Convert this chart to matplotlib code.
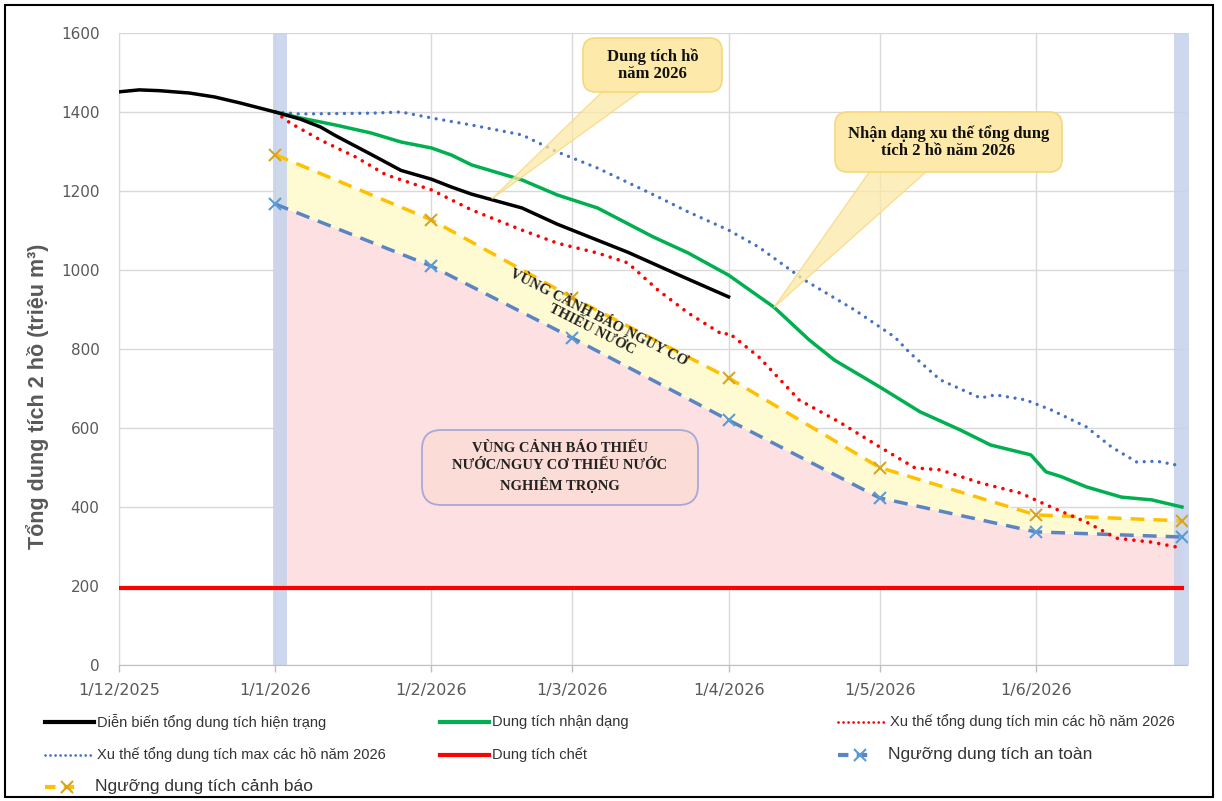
import numpy as np
import matplotlib
matplotlib.use("Agg")
import matplotlib.pyplot as plt
import matplotlib.dates as mdates
from matplotlib.lines import Line2D
from matplotlib.patches import Rectangle, FancyBboxPatch, Polygon

# ---------------- data ----------------
hien_trang_dates = ["2025-12-01", "2025-12-05", "2025-12-09", "2025-12-15", "2025-12-20",
                    "2025-12-25", "2026-01-01", "2026-01-06", "2026-01-10", "2026-01-13",
                    "2026-01-20", "2026-01-26", "2026-02-01", "2026-02-05", "2026-02-09",
                    "2026-02-19", "2026-02-26", "2026-03-12", "2026-03-22", "2026-04-01"]
hien_trang_vals = [1451, 1456, 1454, 1448, 1438, 1423, 1400, 1382, 1362, 1340,
                   1293, 1252, 1230, 1210, 1192, 1157, 1116, 1045, 988, 932]

nhan_dang_dates = ["2026-01-01", "2026-01-06", "2026-01-13", "2026-01-20", "2026-01-26",
                   "2026-02-01", "2026-02-05", "2026-02-09", "2026-02-19", "2026-02-26",
                   "2026-03-06", "2026-03-17", "2026-03-24", "2026-04-01", "2026-04-10",
                   "2026-04-17", "2026-04-22", "2026-05-01", "2026-05-09", "2026-05-17",
                   "2026-05-23", "2026-05-31", "2026-06-03", "2026-06-06", "2026-06-11",
                   "2026-06-18", "2026-06-24", "2026-06-30"]
nhan_dang_vals = [1400, 1385, 1367, 1347, 1324, 1309, 1291, 1266, 1228, 1190,
                  1157, 1084, 1043, 987, 906, 823, 772, 704, 641, 595,
                  557, 532, 489, 477, 451, 425, 418, 400]

min_dates = ["2026-01-01", "2026-01-04", "2026-01-10", "2026-01-17", "2026-01-23",
             "2026-02-01", "2026-02-09", "2026-02-19", "2026-02-26", "2026-03-06",
             "2026-03-12", "2026-03-18", "2026-03-24", "2026-03-31", "2026-04-01",
             "2026-04-07", "2026-04-15", "2026-04-23", "2026-05-01", "2026-05-08",
             "2026-05-13", "2026-05-21", "2026-05-29", "2026-06-04", "2026-06-11",
             "2026-06-17", "2026-06-24", "2026-06-30"]
min_vals = [1400, 1372, 1329, 1286, 1241, 1203, 1152, 1101, 1068, 1043,
            1018, 949, 891, 835, 841, 780, 671, 615, 552, 499,
            494, 461, 435, 400, 362, 321, 311, 296]

max_dates = ["2026-01-01", "2026-01-06", "2026-01-20", "2026-01-26", "2026-02-01",
             "2026-02-09", "2026-02-19", "2026-02-26", "2026-03-06", "2026-03-18",
             "2026-03-24", "2026-04-01", "2026-04-07", "2026-04-16", "2026-04-26",
             "2026-05-04", "2026-05-07", "2026-05-13", "2026-05-21", "2026-05-24",
             "2026-05-30", "2026-06-04", "2026-06-11", "2026-06-16", "2026-06-21",
             "2026-06-25", "2026-06-29"]
max_vals = [1400, 1395, 1397, 1400, 1385, 1367, 1342, 1299, 1258, 1185,
            1147, 1101, 1058, 975, 899, 830, 790, 722, 676, 684,
            671, 646, 603, 552, 514, 516, 506]

nguong_dates = ["2026-01-01", "2026-02-01", "2026-03-01", "2026-04-01",
                "2026-05-01", "2026-06-01", "2026-06-30"]
an_toan_vals = [1167, 1010, 828, 620, 423, 337, 324]
canh_bao_vals = [1292, 1127, 930, 727, 500, 380, 365]

chet_dates = ["2025-12-01", "2026-06-30"]
chet_vals = [195, 195]

tick_dates = ["2025-12-01", "2026-01-01", "2026-02-01", "2026-03-01",
              "2026-04-01", "2026-05-01", "2026-06-01"]
tick_labels = ["1/12/2025", "1/1/2026", "1/2/2026", "1/3/2026",
               "1/4/2026", "1/5/2026", "1/6/2026"]
y_ticks = [0, 200, 400, 600, 800, 1000, 1200, 1400, 1600]

labels = ["Diễn biến tổng dung tích hiện trạng", "Dung tích nhận dạng",
          "Xu thế tổng dung tích min các hồ năm 2026",
          "Xu thế tổng dung tích max các hồ năm 2026", "Dung tích chết",
          "Ngưỡng dung tích an toàn", "Ngưỡng dung tích cảnh báo"]


def d(lst):
    return mdates.date2num(np.array(lst, dtype="datetime64[D]"))


# ---------------- style ----------------
SANS = ["Liberation Sans", "DejaVu Sans"]
SERIF = ["Liberation Serif", "DejaVu Serif"]
C_BLACK = "#000000"
C_GREEN = "#00b050"
C_RED = "#ff0000"
C_BLUE = "#4472c4"
C_SAFE = "#5b84c4"
C_SAFE_M = "#5b9bd5"
C_WARN = "#ffc000"
C_WARN_M = "#d9a520"
GRID = "#d9d9d9"
TXT = "#595959"

W, H = 1222, 801
fig = plt.figure(figsize=(W / 100, H / 100), dpi=100)
L, R, B, T = 119, 1187, 665, 33
ax = fig.add_axes([L / W, 1 - B / H, (R - L) / W, (B - T) / H])

x0 = d(["2025-12-01"])[0]
x1 = d(["2026-07-01"])[0]
ax.set_xlim(x0, x1)
ax.set_ylim(0, 1600)


def afx(px):
    return (px - L) / (R - L)


def afy(py):
    return (B - py) / (B - T)


def dfx(xv):
    return (xv - x0) / (x1 - x0)


def fx(px):
    return px / W


def fy(py):
    return 1 - py / H


# blue bands
ax.axvspan(d(["2025-12-31"])[0] + 0.5, d(["2026-01-03"])[0] + 0.3,
           color="#c5d2ec", alpha=0.85, zorder=1, lw=0)
ax.axvspan(d(["2026-06-28"])[0] + 0.5, x1 + 0.3,
           color="#c5d2ec", alpha=0.85, zorder=1, lw=0, clip_on=False)

# fills
xn = d(nguong_dates)
ax.fill_between(xn, chet_vals[0], an_toan_vals, color="#fde0e1", lw=0, zorder=0.5)
ax.fill_between(xn, an_toan_vals, canh_bao_vals, color="#fefbd2", lw=0, zorder=0.5)

# grid
for v in y_ticks:
    ax.axhline(v, color=GRID, lw=1, zorder=0.2)
for v in d(tick_dates):
    ax.axvline(v, color=GRID, lw=1, zorder=0.2)

DOT = (0, (0.01, 2.3))
# series
ax.plot(d(chet_dates), chet_vals, color=C_RED, lw=3, zorder=3)
ax.plot(xn, an_toan_vals, color=C_SAFE, lw=2.5, ls=(0, (4, 2.6)), zorder=3)
ax.plot(xn, an_toan_vals, ls="none", marker="x", ms=8, mew=1.5, color=C_SAFE_M, zorder=4)
ax.plot(xn, canh_bao_vals, color=C_WARN, lw=2.5, ls=(0, (4, 2.6)), zorder=3)
ax.plot(xn, canh_bao_vals, ls="none", marker="x", ms=8, mew=1.5, color=C_WARN_M, zorder=4)
ax.plot(d(max_dates), max_vals, color=C_BLUE, lw=2.4, ls=DOT,
        dash_capstyle="round", zorder=3)
ax.plot(d(min_dates), min_vals, color=C_RED, lw=2.6, ls=DOT,
        dash_capstyle="round", zorder=3)
ax.plot(d(nhan_dang_dates), nhan_dang_vals, color=C_GREEN, lw=2.5, zorder=3)
ax.plot(d(hien_trang_dates), hien_trang_vals, color=C_BLACK, lw=2.5, zorder=3)

# axes styling
ax.set_yticks(y_ticks)
ax.set_xticks(d(tick_dates))
ax.set_xticklabels(tick_labels)
ax.tick_params(axis="x", colors=TXT, labelsize=11.5, length=5, width=1, color="#bfbfbf", pad=8)
ax.tick_params(axis="y", colors=TXT, labelsize=11, length=0, pad=14)
for lab in ax.get_xticklabels() + ax.get_yticklabels():
    lab.set_color(TXT)
for s in ["top", "right"]:
    ax.spines[s].set_visible(False)
ax.spines["left"].set_color(GRID)
ax.spines["bottom"].set_color("#bfbfbf")
fig.text(fx(38), fy(396), "Tổng dung tích 2 hồ (triệu m³)", fontsize=15.5, fontweight="bold",
         color=TXT, family=SANS, rotation=90, ha="center", va="center")

# callouts
callout_fc = "#fde9a9"
callout_ec = "#f7d77a"


def callout(box, base, tip_date, tip_val, text):
    bx0, by0, bx1, by1 = box
    tx = dfx(d([tip_date])[0])
    ty = tip_val / 1600
    tail = Polygon([(afx(base[0]), afy(base[1])), (afx(base[2]), afy(base[3])), (tx, ty)],
                   closed=True, transform=ax.transAxes, fc=callout_fc, ec=callout_ec,
                   lw=1, alpha=0.75, zorder=6, clip_on=False)
    ax.add_patch(tail)
    rect = FancyBboxPatch((afx(bx0), afy(by1)), afx(bx1) - afx(bx0), afy(by0) - afy(by1),
                          boxstyle="round,pad=0,rounding_size=0.012", transform=ax.transAxes,
                          fc=callout_fc, ec=callout_ec, lw=1.2, zorder=6.5, clip_on=False,
                          mutation_aspect=(R - L) / (B - T))
    ax.add_patch(rect)
    ax.text((afx(bx0) + afx(bx1)) / 2, (afy(by0) + afy(by1)) / 2, text,
            transform=ax.transAxes, ha="center", va="center", fontsize=12,
            fontweight="bold", family=SERIF, color="#111111", zorder=7, linespacing=1.1)


callout((583, 38, 722, 92), (603, 91, 641, 91), "2026-02-13", 1180, "Dung tích hồ\nnăm 2026")
callout((835, 112, 1062, 172), (870, 171, 927, 171), "2026-04-10", 905,
        "Nhận dạng xu thế tổng dung\ntích 2 hồ năm 2026")

# zone labels
ax.text(0.446, 0.540, "VÙNG CẢNH BÁO NGUY CƠ\nTHIẾU NƯỚC", transform=ax.transAxes,
        rotation=-27, ha="center", va="center", fontsize=10.5, fontweight="bold",
        family=SERIF, color="#222222", linespacing=1.0, zorder=5)
pbox = FancyBboxPatch((afx(422), afy(505)), afx(698) - afx(422), afy(430) - afy(505),
                      boxstyle="round,pad=0,rounding_size=0.018", transform=ax.transAxes,
                      fc="#fcdcd6", ec="#a8a8d8", lw=1.3, zorder=4.5,
                      mutation_aspect=(R - L) / (B - T))
ax.add_patch(pbox)
ax.text((afx(422) + afx(698)) / 2, (afy(430) + afy(505)) / 2,
        "VÙNG CẢNH BÁO THIẾU\nNƯỚC/NGUY CƠ THIẾU NƯỚC\nNGHIÊM TRỌNG",
        transform=ax.transAxes, ha="center", va="center", fontsize=10.5, fontweight="bold",
        family=SERIF, color="#222222", linespacing=1.35, zorder=5)

# legend (manual, figure pixel coordinates)
LDOT = (0, (0.01, 1.8))
legend_items = [
    (45, 722, dict(color=C_BLACK, lw=3), None, labels[0], 10.5),
    (440, 722, dict(color=C_GREEN, lw=3), None, labels[1], 10.5),
    (838, 722, dict(color=C_RED, lw=2, ls=LDOT, dash_capstyle="round"), None, labels[2], 10.5),
    (45, 755, dict(color=C_BLUE, lw=2, ls=LDOT, dash_capstyle="round"), None, labels[3], 10.5),
    (440, 755, dict(color=C_RED, lw=3), None, labels[4], 10.5),
    (838, 755, dict(color=C_SAFE, lw=3, ls=(0, (2.5, 2))), C_SAFE_M, labels[5], 12.5),
    (45, 787, dict(color=C_WARN, lw=3, ls=(0, (2.5, 2))), C_WARN_M, labels[6], 12.5),
]
for px, py, kw, mcol, lab, fs in legend_items:
    if mcol is None:
        fig.add_artist(Line2D([fx(px), fx(px + 49)], [fy(py), fy(py)], **kw))
        tx = px + 52
    else:
        fig.add_artist(Line2D([fx(px), fx(px + 34)], [fy(py), fy(py)], **kw))
        fig.add_artist(Line2D([fx(px + 22)], [fy(py)], marker="x", ms=8, mew=1.5,
                              color=mcol, ls="none"))
        tx = px + 50
    fig.text(fx(tx), fy(py), lab, fontsize=fs, family=SANS, color="#333333",
             ha="left", va="center")

# outer frame
fig.add_artist(Rectangle((fx(5), fy(797)), fx(1213) - fx(5), fy(5) - fy(797),
                         transform=fig.transFigure, fill=False, ec="#000000", lw=1.5))

fig.savefig("out.png", dpi=100)
